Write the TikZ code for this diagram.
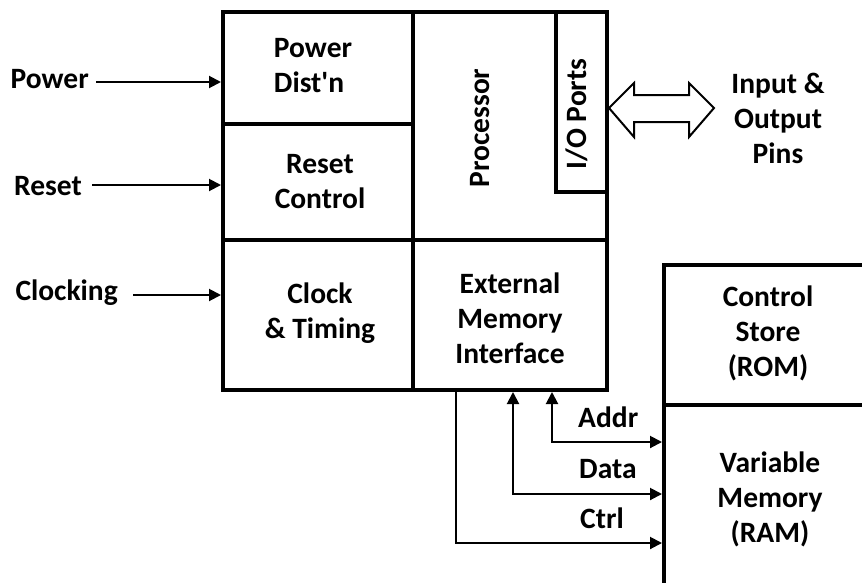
\documentclass[tikz,border=0pt]{standalone}
\usepackage{fontspec}
\setmainfont{Carlito}[Ligatures=TeXOff]
\usetikzlibrary{arrows.meta}
\begin{document}
\begin{tikzpicture}[x=1pt,y=-1pt,
  blk/.style={draw, line width=4pt, rectangle, inner sep=0pt},
  txt/.style={font=\bfseries\fontsize{29.5}{35}\selectfont, align=center, inner sep=0pt},
  conn/.style={line width=2pt, -{Triangle[length=12pt,width=12pt]}},
  bconn/.style={line width=2pt, {Triangle[length=12pt,width=12pt]}-{Triangle[length=12pt,width=12pt]}},
]
\useasboundingbox (0,0) rectangle (862,582);
% blocks
\node[blk, minimum width=190pt, minimum height=112pt] (pwr) at (318,68) {};
\node[blk, minimum width=190pt, minimum height=116pt] (rst) at (318,182) {};
\node[blk, minimum width=190pt, minimum height=150pt] (clk) at (318,315) {};
\node[blk, minimum width=194pt, minimum height=228pt] (proc) at (510,126) {};
\node[blk, minimum width=51pt, minimum height=180pt] (io) at (581.5,102) {};
\node[blk, minimum width=194pt, minimum height=150pt] (emi) at (510,315) {};
\node[blk, minimum width=236pt, minimum height=140pt] (rom) at (782,335) {};
\node[blk, minimum width=236pt, minimum height=215pt] (ram) at (782,512.5) {};
% block texts
\node[txt, align=left] (tpwr) at (313,66) {Power\\Dist'n};
\node[txt] (trst) at (320,182) {Reset\\Control};
\node[txt] (tclk) at (320,313) {Clock\\\& Timing};
\node[txt, rotate=90] (tproc) at (480,128) {Processor};
\node[txt, rotate=90] (tio) at (577,114) {I/O Ports};
\node[txt] (temi) at (510,318) {External\\Memory\\Interface};
\node[txt] (trom) at (768,333) {Control\\Store\\(ROM)};
\node[txt] (tram) at (770,499) {Variable\\Memory\\(RAM)};
\node[txt] (tpins) at (778,118) {Input \&\\Output\\Pins};
% left inputs
\node[txt, anchor=base east] (lpow) at (89,88) {Power};
\node[txt, anchor=base east] (lrst) at (82,195) {Reset};
\node[txt, anchor=base east] (lclk) at (118,300) {Clocking};
\coordinate (pa) at (96,82);
\coordinate (ra) at (92,185);
\coordinate (ca) at (133,295);
\draw[conn] (pa) -- (pa -| pwr.west);
\draw[conn] (ra) -- (ra -| rst.west);
\draw[conn] (ca) -- (ca -| clk.west);
% I/O double arrow
\coordinate (dt) at (io.east |- 0,108);
\draw[line width=2pt, fill=white, line join=miter] (dt) -- ++(25,-25) -- ++(0,12) -- ++(55,0) -- ++(0,-12) -- ++(25,25) -- ++(-25,29) -- ++(0,-15) -- ++(-55,0) -- ++(0,15) -- cycle;
% memory bus
\coordinate (ac) at (552,442);
\coordinate (dc) at (513,494);
\coordinate (cc) at (456,543);
\draw[bconn] (ac |- emi.south) -- (ac) -- (ac -| ram.west);
\draw[bconn] (dc |- emi.south) -- (dc) -- (dc -| ram.west);
\draw[conn] (cc |- emi.south) -- (cc) -- (cc -| ram.west);
\node[txt, anchor=base west] (laddr) at (578,427) {Addr};
\node[txt, anchor=base west] (ldata) at (579,478) {Data};
\node[txt, anchor=base west] (lctrl) at (580,528) {Ctrl};
\end{tikzpicture}
\end{document}
